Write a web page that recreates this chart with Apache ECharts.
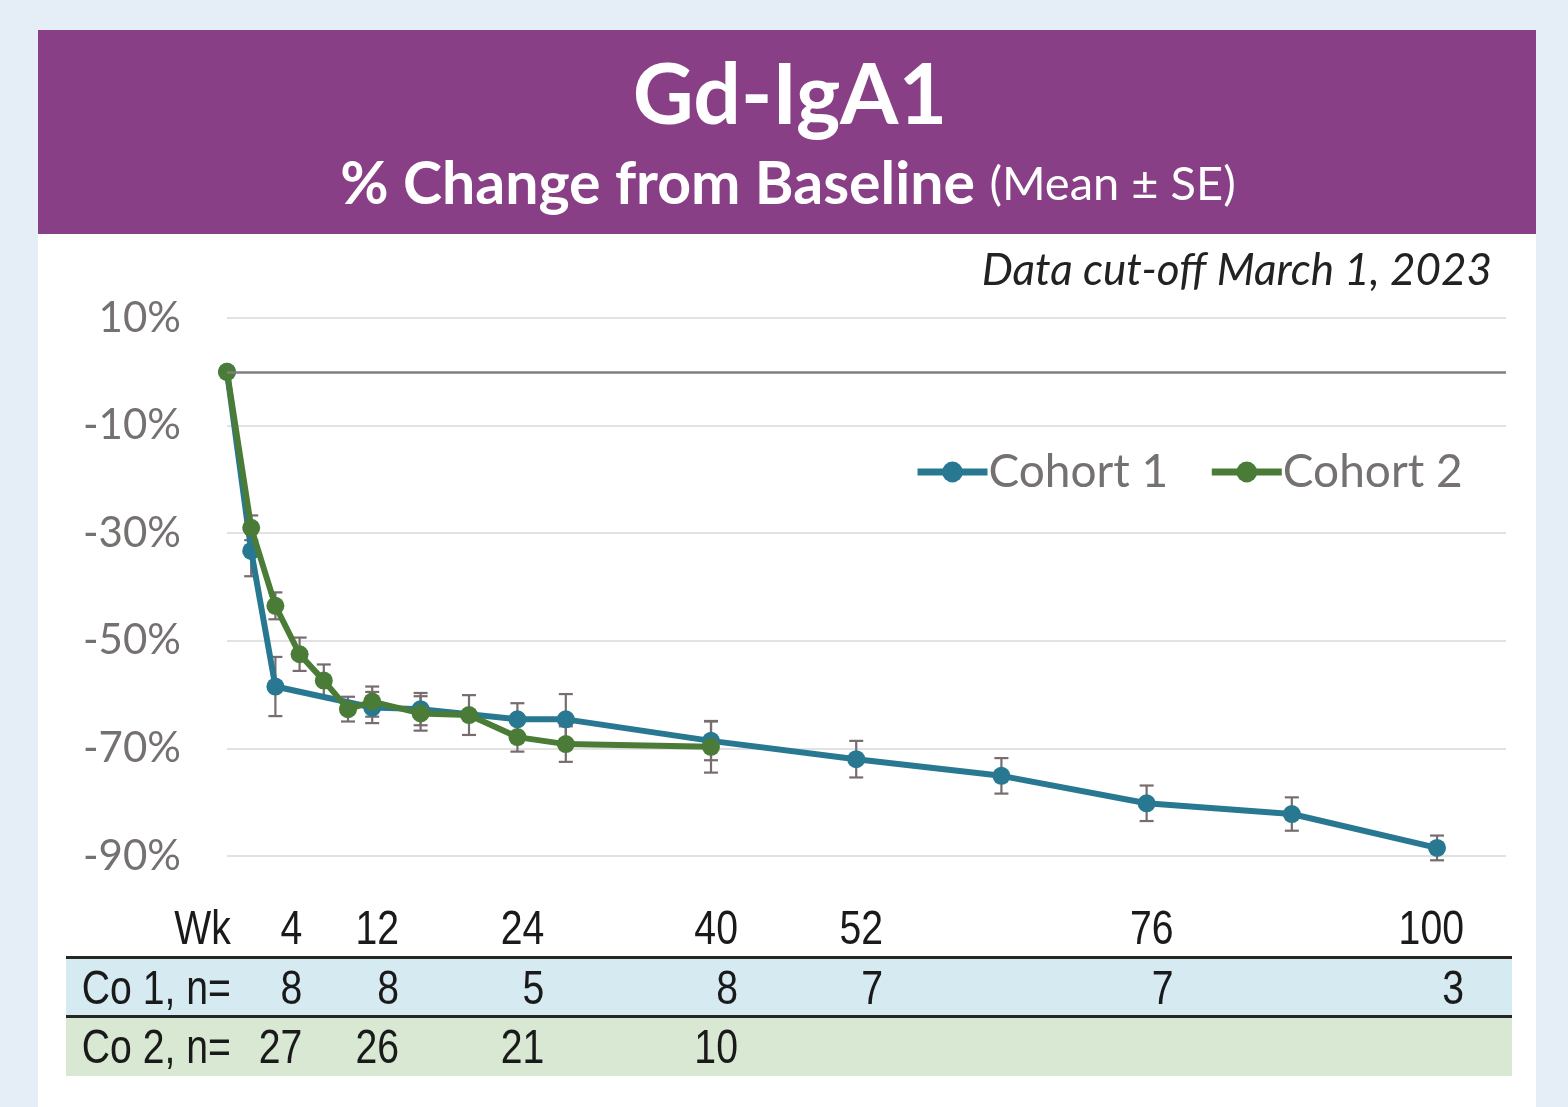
<!DOCTYPE html>
<html>
<head>
<meta charset="utf-8">
<title>Gd-IgA1</title>
<script src="https://cdn.jsdelivr.net/npm/echarts@6/dist/echarts.min.js"></script>
<style>
  html, body { margin: 0; padding: 0; background: #e5eef7; }
  #chart { width: 1568px; height: 1107px; }
</style>
</head>
<body>
<div id="chart"></div>
<script>
// Cohort 1 (mean % change and SE per week)
var weeks1 = [0, 2, 4, 12, 16, 24, 28, 40, 52, 64, 76, 88, 100];
var mean1 = [0, -33.3, -58.5, -62.4, -62.7, -64.6, -64.6, -68.6, -72.0, -75.1, -80.2, -82.2, -88.5];
var se1 = [0, 4.7, 5.5, 2.9, 3.0, 3.0, 4.7, 3.6, 3.4, 3.3, 3.3, 3.1, 2.3];

// Cohort 2
var weeks2 = [0, 2, 4, 6, 8, 10, 12, 16, 20, 24, 28, 40];
var mean2 = [0, -29.0, -43.5, -52.5, -57.4, -62.7, -61.3, -63.5, -63.8, -67.9, -69.2, -69.7];
var se2 = [0, 2.3, 2.5, 3.1, 3.0, 2.3, 2.8, 3.2, 3.7, 2.7, 3.3, 4.8];

// table under the chart
var tableWeeks = [4, 12, 24, 40, 52, 76, 100];
var n1 = [8, 8, 5, 8, 7, 7, 3];
var n2Weeks = [4, 12, 24, 40];
var n2 = [27, 26, 21, 10];
var rowNames = ['Co 2, n=', 'Co 1, n=', 'Wk'];

var C1 = '#287892', C2 = '#4a7c38', ERR = '#776c6e';

var myChart = echarts.init(document.getElementById('chart'));

function pairs(xs, ys) {
    return xs.map(function (x, i) { return [x, ys[i]]; });
}
function triples(xs, ys, es) {
    return xs.map(function (x, i) { return [x, ys[i], es[i]]; });
}

// error bar: vertical whisker with caps
function renderErr(params, api) {
    var x = api.value(0), m = api.value(1), e = api.value(2);
    if (!e) return null;
    var top = api.coord([x, m + e]);
    var bot = api.coord([x, m - e]);
    var w = 7;
    var st = { stroke: ERR, lineWidth: 2.2 };
    return {
        type: 'group',
        children: [
            { type: 'line', shape: { x1: top[0], y1: top[1], x2: bot[0], y2: bot[1] }, style: st },
            { type: 'line', shape: { x1: top[0] - w, y1: top[1], x2: top[0] + w, y2: top[1] }, style: st },
            { type: 'line', shape: { x1: bot[0] - w, y1: bot[1], x2: bot[0] + w, y2: bot[1] }, style: st }
        ]
    };
}

// narrow table text: Liberation Sans squeezed horizontally, right aligned
function cellText(txt, p, dx) {
    return {
        type: 'text', x: p[0] + dx, y: p[1] + 3, scaleX: 0.8,
        style: {
            text: txt, fontFamily: "'Liberation Sans', Arial, sans-serif", fontSize: 49,
            fill: '#1a1a1a', align: 'right', verticalAlign: 'middle'
        }
    };
}

function tableRow(name, xs, vals) {
    return {
        type: 'custom', xAxisIndex: 1, yAxisIndex: 1, silent: true, clip: false,
        encode: { x: 0, y: 1 },
        data: xs.map(function (x, i) { return [x, name, vals[i]]; }),
        renderItem: function (params, api) {
            var p = api.coord([api.value(0), api.value(1)]);
            return cellText(String(vals[params.dataIndex]), p, 27);
        }
    };
}

var option = {
    backgroundColor: '#e5eef7',
    animation: false,
    graphic: [
        { type: 'rect', z: -10, shape: { x: 38, y: 30, width: 1498, height: 1100 }, style: { fill: '#ffffff' } },
        { type: 'rect', z: -9, shape: { x: 38, y: 30, width: 1498, height: 204 }, style: { fill: '#893f86' } }
    ],
    title: [
        {
            text: 'Gd-IgA1', left: 785, top: 50, textAlign: 'center',
            textStyle: { color: '#fff', fontFamily: 'Lato', fontWeight: 'bold', fontSize: 84 }
        },
        {
            text: '{b|% Change from Baseline }{r|(Mean ± SE)}', left: 783, top: 150, textAlign: 'center',
            textStyle: {
                rich: {
                    b: { color: '#fff', fontFamily: 'Lato', fontWeight: 'bold', fontSize: 59 },
                    r: { color: '#fff', fontFamily: 'Lato', fontWeight: 'normal', fontSize: 47 }
                }
            }
        },
        {
            text: 'Data cut-off March 1, 2023', right: 71, top: 244,
            textStyle: { color: '#222', fontFamily: 'Lato', fontStyle: 'italic', fontWeight: 'normal', fontSize: 44 }
        }
    ],
    legend: {
        data: ['Cohort 1', 'Cohort 2'],
        left: 909, top: 444,
        itemWidth: 70, itemHeight: 26, itemGap: 40,
        lineStyle: { width: 7 },
        textStyle: { fontFamily: 'Lato', fontSize: 46, color: '#767171', padding: [0, 0, 0, -4] }
    },
    grid: [
        { left: 227, right: 62, top: 318, bottom: 251 },
        { left: 66, right: 56, top: 898, bottom: 31 }
    ],
    xAxis: [
        { type: 'value', gridIndex: 0, min: 0, max: 105.7, show: false },
        { type: 'value', gridIndex: 1, min: -13.3, max: 106.2, show: false }
    ],
    yAxis: [
        {
            type: 'value', gridIndex: 0, min: -90, max: 10, interval: 20,
            axisLine: { show: false }, axisTick: { show: false },
            axisLabel: { formatter: '{value}%', fontFamily: 'Lato', fontSize: 42, color: '#767171', margin: 46 },
            splitLine: { lineStyle: { color: '#d9d9d9', width: 1.5 } }
        },
        {
            type: 'category', gridIndex: 1, data: rowNames,
            axisLine: { show: false }, axisTick: { show: false, interval: 0 },
            axisLabel: { show: false, interval: 0 },
            splitArea: { show: true, interval: 0, areaStyle: { color: ['#d8e8d3', '#d5eaf1', 'rgba(255,255,255,0)'] } },
            splitLine: { show: true, interval: 0, showMinLine: false, showMaxLine: false, lineStyle: { color: '#262626', width: 3 } }
        }
    ],
    series: [
        {
            name: 'err1', type: 'custom', renderItem: renderErr, z: 1, clip: false, silent: true,
            encode: { x: 0, y: 1 }, data: triples(weeks1, mean1, se1),
            markLine: {
                silent: true, symbol: 'none', label: { show: false },
                lineStyle: { color: '#7f7f7f', width: 2.5, type: 'solid' },
                data: [{ yAxis: 0 }]
            }
        },
        {
            name: 'err2', type: 'custom', renderItem: renderErr, z: 1, clip: false, silent: true,
            encode: { x: 0, y: 1 }, data: triples(weeks2, mean2, se2)
        },
        {
            name: 'Cohort 1', type: 'line', z: 3, data: pairs(weeks1, mean1),
            symbol: 'circle', symbolSize: 18,
            lineStyle: { color: C1, width: 6 }, itemStyle: { color: C1 }
        },
        {
            name: 'Cohort 2', type: 'line', z: 4, data: pairs(weeks2, mean2),
            symbol: 'circle', symbolSize: 18,
            lineStyle: { color: C2, width: 6 }, itemStyle: { color: C2 }
        },
        // row headings, right-aligned at the plot's left edge (week 0)
        {
            type: 'custom', xAxisIndex: 1, yAxisIndex: 1, silent: true, clip: false,
            encode: { x: 0, y: 1 },
            data: rowNames.map(function (n) { return [0, n]; }),
            renderItem: function (params, api) {
                var p = api.coord([api.value(0), api.value(1)]);
                return cellText(rowNames[params.dataIndex], p, 4);
            }
        },
        tableRow('Wk', tableWeeks, tableWeeks),
        tableRow('Co 1, n=', tableWeeks, n1),
        tableRow('Co 2, n=', n2Weeks, n2)
    ]
};
myChart.setOption(option, true);
</script>
</body>
</html>
